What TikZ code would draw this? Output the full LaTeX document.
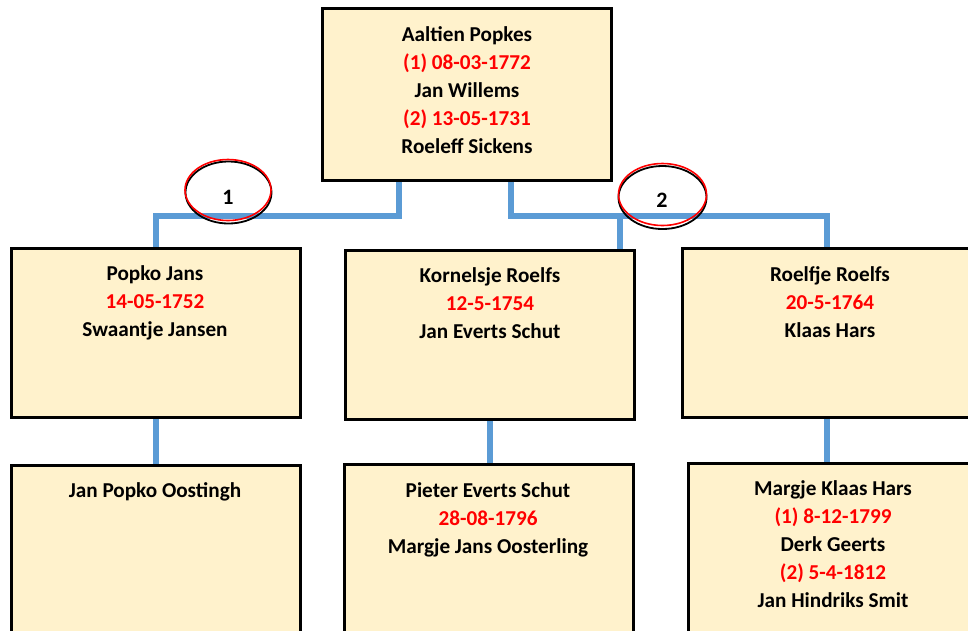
\documentclass[tikz,border=0pt]{standalone}
\usepackage{fontspec}
\setmainfont{Carlito}
\usetikzlibrary{shapes.geometric}
\definecolor{boxfill}{HTML}{FFF2CC}
\definecolor{linkblue}{HTML}{5B9BD5}
\definecolor{datered}{HTML}{FF0000}
\tikzset{
  person/.style={draw=black, line width=2pt, fill=boxfill, inner sep=0pt, minimum width=288pt},
  names/.style={align=center, inner sep=0pt, anchor=base, font=\fontsize{21.2}{28}\selectfont\bfseries},
  link/.style={draw=linkblue, line width=6pt},
  ringred/.style={ellipse, draw=datered, line width=1.6pt, inner sep=0pt},
  ringblack/.style={ellipse, draw=black, line width=1.8pt, inner sep=0pt},
  num/.style={inner sep=0pt, font=\fontsize{22}{24}\selectfont\bfseries}
}
\newcommand{\dt}[1]{\textcolor{datered}{#1}}
\begin{document}
\begin{tikzpicture}[x=1pt,y=-1pt]
\useasboundingbox (0,0) rectangle (968,630);
% boxes
\node[person, minimum height=171pt] (top) at (467,94.5) {};
\node[person, minimum height=168pt] (left) at (155.5,332.5) {};
\node[person, minimum height=168pt] (mid) at (490,334.5) {};
\node[person, minimum height=168pt] (right) at (827,333) {};
\node[person, minimum height=190pt, anchor=north] (bl) at (155.5,465) {};
\node[person, minimum height=190pt, anchor=north] (bm) at (488.5,464) {};
\node[person, minimum height=190pt, anchor=north] (br) at (833,463) {};
% junctions
\coordinate (j1) at (399,216);
\coordinate (j2) at (511,216);
\coordinate (j3) at (620,216);
% connectors
\path[link] (j1 |- top.south) -- (j1) -| (left.north);
\path[link] (j2 |- top.south) -- (j2) -| (right.north);
\path[link] (j3) -- (j3 |- mid.north);
\path[link] (left.south) -- (left.south |- bl.north);
\path[link] (mid.south) -- (mid.south |- bm.north);
\path[link] (right.south) -- (right.south |- br.north);
% redraw borders over line ends
\foreach \n in {top,left,mid,right,bl,bm,br}{
  \draw[black, line width=2pt] (\n.north west) rectangle (\n.south east);
}
% texts (anchor base = baseline of last line)
\node[names] (ttop) at (467,153) {Aaltien Popkes\\\dt{(1) 08-03-1772}\\Jan Willems\\\dt{(2) 13-05-1731}\\Roeleff Sickens};
\node[names] (tleft) at (155,336) {Popko Jans\\\dt{14-05-1752}\\Swaantje Jansen};
\node[names] (tmid) at (490,338) {Kornelsje Roelfs\\\dt{12-5-1754}\\Jan Everts Schut};
\node[names] (tright) at (830,337) {Roelfje Roelfs\\\dt{20-5-1764}\\Klaas Hars};
\node[names] (tbl) at (155,497) {Jan Popko Oostingh};
\node[names] (tbm) at (488,553) {Pieter Everts Schut\\\dt{28-08-1796}\\Margje Jans Oosterling};
\node[names] (tbr) at (833,607) {Margje Klaas Hars\\\dt{(1) 8-12-1799}\\Derk Geerts\\\dt{(2) 5-4-1812}\\Jan Hindriks Smit};
% marriage rings
\node[ringblack, minimum width=86pt, minimum height=62pt] (r1b) at (228.5,192.5) {};
\node[ringred, minimum width=86pt, minimum height=61pt] (r1) at (228,190) {};
\node[num] (n1) at (228,197.5) {1};
\node[ringblack, minimum width=88pt, minimum height=63pt] (r2b) at (662.5,197.5) {};
\node[ringred, minimum width=88pt, minimum height=62pt] (r2) at (662.5,194.5) {};
\node[num] (n2) at (662,200.5) {2};
\end{tikzpicture}
\end{document}
